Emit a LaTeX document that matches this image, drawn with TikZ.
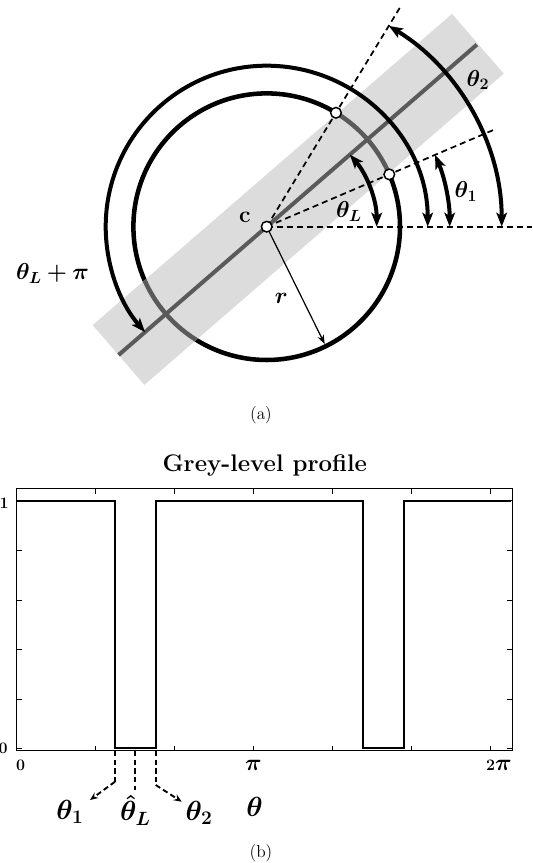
\documentclass[tikz,border=0pt]{standalone}
\usepackage{amsmath,bm}
\usetikzlibrary{arrows.meta}
\definecolor{bandgrey}{HTML}{DCDCDC}
\definecolor{linegrey}{HTML}{5A5A5A}
\tikzset{
  arcarrow/.style={line width=3pt, {Stealth[length=10.5pt,width=8pt,inset=2.5pt]}-{Stealth[length=10.5pt,width=8pt,inset=2.5pt]}},
  guide/.style={dash pattern=on 4.5pt off 3pt, line width=1.3pt},
  dotnode/.style={circle, draw=black, fill=white, line width=1.1pt, minimum size=8pt, inner sep=0pt},
  lab/.style={font=\fontsize{17}{19}\selectfont, inner sep=0pt},
  blab/.style={font=\fontsize{20}{22}\selectfont, inner sep=0pt},
  axisline/.style={line width=0.75pt},
  plotline/.style={line width=1.4pt},
  pdash/.style={dash pattern=on 4pt off 2.5pt, line width=1.4pt},
  captext/.style={font=\fontsize{13}{15}\selectfont, inner sep=0pt}
}
\begin{document}
\begin{tikzpicture}[x=0.75pt,y=0.75pt]
\useasboundingbox (0,0) rectangle (532,863);
% ---------------- (a) ----------------
\begin{scope}[shift={(266.7,636.3)}]
  \coordinate (c) at (0,0);
  % circle
  \draw[line width=3.4pt] (c) circle[radius=133.3];
  % band
  \fill[bandgrey, rotate=40.9] (-196,-39.5) rectangle (279.4,39.5);
  \begin{scope}
    \clip[rotate=40.9] (-196,-39.5) rectangle (279.4,39.5);
    \draw[line width=3.4pt, linegrey] (c) circle[radius=133.3];
  \end{scope}
  \coordinate (bl) at (220.9:196);
  \coordinate (br) at (40.9:278);
  \draw[line width=3pt, linegrey] (bl) -- (br);
  % dashed guide lines
  \coordinate (g1) at (23.1:248.8);
  \coordinate (g2) at (58.7:258.7);
  \coordinate (g0) at (265.3,0);
  \draw[guide] (c) -- (g1);
  \draw[guide] (c) -- (g2);
  \draw[guide] (c) -- (g0);
  % radius arrow
  \coordinate (rend) at (-63.7:131);
  \draw[line width=0.9pt, -{Stealth[length=7pt,width=5pt]}] (c) -- (rend);
  % angle arcs
  \draw[arcarrow] (0:110) arc[start angle=0, end angle=40.9, radius=110];
  \draw[arcarrow] (0:161) arc[start angle=0, end angle=220.9, radius=161];
  \draw[arcarrow] (0:183) arc[start angle=0, end angle=23.1, radius=183];
  \draw[arcarrow] (0:235) arc[start angle=0, end angle=58.7, radius=235];
  % dots
  \node[dotnode] (d1) at (23.1:133.3) {};
  \node[dotnode] (d2) at (58.7:133.3) {};
  \node[dotnode] (cdot) at (c) {};
  % labels
  \node[lab] (lc) at (-21.7,9.7) {$\mathbf{c}$};
  \node[lab] (lr) at (14.7,-72) {$\bm{r}$};
  \node[lab] (lL) at (82.3,15.3) {$\bm{\theta_L}$};
  \node[lab] (l1) at (199.3,35.4) {$\bm{\theta_1}$};
  \node[lab] (l2) at (211.3,146.7) {$\bm{\theta_2}$};
  \node[lab] (lLp) at (-214.2,-46.8) {$\bm{\theta_L+\pi}$};
\end{scope}
\node[captext] (capa) at (261,448) {(a)};
% ---------------- (b) ----------------
\node[font=\fontsize{18}{20}\selectfont\bfseries, inner sep=0pt] (title) at (264.7,397.6) {Grey-level profile};
\draw[axisline] (16.7,112) rectangle (512.3,374);
\foreach \x in {95.6,174.5,253.4,332.3,411.2,490.1} {
  \draw[axisline] (\x,112) -- ++(0,5);
  \draw[axisline] (\x,374) -- ++(0,-5);
}
\foreach \y in {114.7,163.8,213.3,262.7,312.2,362} {
  \draw[axisline] (16.7,\y) -- ++(5,0);
  \draw[axisline] (512.3,\y) -- ++(-5,0);
}
\draw[plotline] (16.7,362) -- (115,362) -- (115,114.7) -- (155.7,114.7) -- (155.7,362)
  -- (362.9,362) -- (362.9,114.7) -- (403.6,114.7) -- (403.6,362) -- (511,362);
% tick labels
\node[font=\fontsize{12}{14}\selectfont\bfseries, anchor=east, inner sep=0pt] (y1) at (9,360) {1};
\node[font=\fontsize{12}{14}\selectfont\bfseries, anchor=east, inner sep=0pt] (y0) at (8,115) {0};
\node[font=\fontsize{12}{14}\selectfont\bfseries, anchor=base, inner sep=0pt] (x0) at (20.7,92) {0};
\node[font=\fontsize{19}{21}\selectfont, anchor=base, inner sep=0pt] (xpi) at (253.4,92) {$\bm{\pi}$};
\node[anchor=base, inner sep=0pt] (x2pi) at (499,92) {\fontsize{12}{14}\selectfont\bfseries 2\fontsize{19}{21}\selectfont$\bm{\pi}$};
% dashed markers
\coordinate (t1a) at (115,112);
\coordinate (t1b) at (115,81.3);
\coordinate (t1c) at (90,63);
\coordinate (tLa) at (135.4,112);
\coordinate (tLb) at (135.4,73);
\coordinate (t2a) at (155.7,112);
\coordinate (t2b) at (155.7,78);
\coordinate (t2c) at (181.7,61.3);
\draw[pdash] (t1a) -- (t1b);
\draw[pdash, -{Stealth[length=6pt,width=5pt]}] (t1b) -- (t1c);
\draw[pdash] (tLa) -- (tLb);
\draw[pdash] (t2a) -- (t2b);
\draw[pdash, -{Stealth[length=6pt,width=5pt]}] (t2b) -- (t2c);
\node[blab] (b1) at (70,51.3) {$\bm{\theta_1}$};
\node[blab] (bL) at (135.5,53) {$\bm{\hat{\theta}_L}$};
\node[blab] (b2) at (199,50) {$\bm{\theta_2}$};
\node[font=\fontsize{21}{23}\selectfont, inner sep=0pt] (bth) at (254.5,56.2) {$\bm{\theta}$};
\node[captext] (capb) at (261,10) {(b)};
\end{tikzpicture}
\end{document}
